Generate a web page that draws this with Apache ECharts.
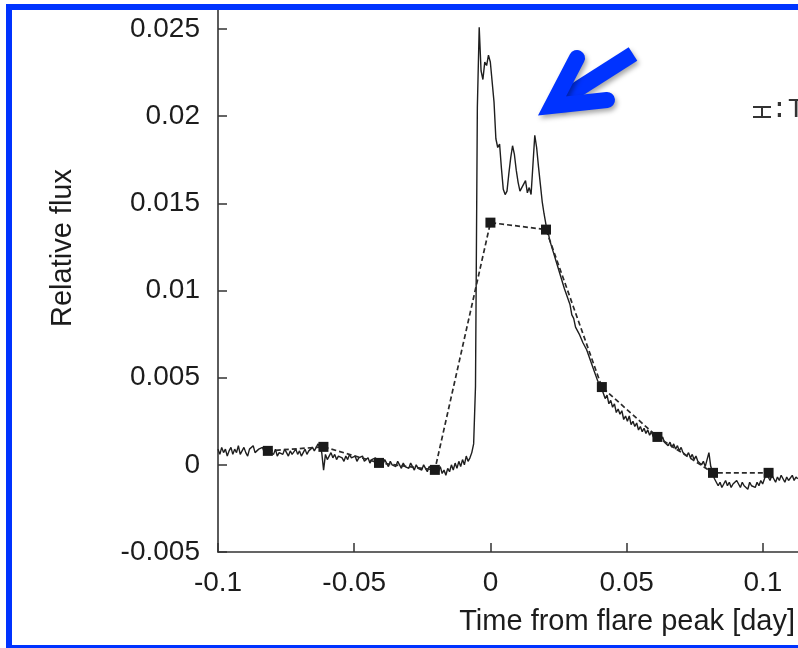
<!DOCTYPE html>
<html><head><meta charset="utf-8">
<script src="https://cdn.jsdelivr.net/npm/echarts@6/dist/echarts.min.js"></script>
<style>html,body{margin:0;padding:0;background:#fff}#c{width:798px;height:648px}</style>
</head><body><div id="c"></div>
<script>
// ---- axis ticks ----
const xTicks = [-0.1, -0.05, 0, 0.05, 0.1];
const yTicks = [-0.005, 0, 0.005, 0.01, 0.015, 0.02, 0.025];
const xTitle = 'Time from flare peak [day]';
const yTitle = 'Relative flux';

// ---- short-cadence light curve (1-min cadence), flux in units of 1e-4 ----
const scStart = -0.1;
const scStep = 0.00068;
const scFlux = [
  // pre-flare
  9,6,10,7,9,5,8,10,6,9,7,11,6,8,10,7,5,9,8,11,7,6,9,8,10,7,8,9,7,
  8,6,9,5,7,8,6,9,7,5,8,6,7,9,6,8,5,7,9,6,8,7,10,8,9,12,10,7,-3,
  6,3,5,7,4,6,3,5,6,4,2,5,3,6,4,3,5,2,4,3,5,2,3,4,1,3,2,4,1,3,
  2,0,3,1,-1,2,0,1,-1,2,0,-2,1,-1,0,-2,1,-1,-3,0,-2,-1,-3,0,-2,-4,-1,-2,-3,-2,
  -2,-4,-1,-5,-3,-6,-2,-4,0,-3,1,-2,2,-1,3,0,5,2,4,7,12,
  // rise
  45,205,251,
  // flare peaks
  226,221,231,229,235,231,232,208,187,182,184,170,158,155,157,167,176,183,178,169,
  162,157,159,161,163,156,159,155,172,189,182,171,161,151,144,138,
  // decay
  135,129,128,122,121,115,114,108,107,101,101,95,92,86,84,79,79,75,75,70,71,66,65,60,60,54,54,48,49,44,
  43,38,40,35,37,33,35,30,32,29,31,26,28,25,28,23,25,22,24,20,22,19,21,18,20,17,19,16,18,15,
  16,14,16,13,14,11,13,10,12,9,11,8,10,7,8,5,7,4,6,3,5,2,3,0,2,-1,0,
  7,-1,-4,-8,-10,
  -12,-10,-13,-11,-9,-12,-10,-13,-11,-12,-9,-11,-13,-10,-12,-11,-14,-10,-12,-11,-13,-10,-12,-9,-11,
  -8,-5,-7,-9,-6,-8,-10,-7,-9,-6,-8,-10,-7,-9,-8,-6,-9,-7,-8
];

// ---- long-cadence (30-min) points ----
const lcTime = [-0.0817, -0.0613, -0.0409, -0.0204, 0, 0.0204, 0.0409, 0.0613, 0.0817, 0.1021];
const lcFlux = [0.0008, 0.00103, 0.00011, -0.00029, 0.01389, 0.01349, 0.00446, 0.0016, -0.00046, -0.00046];

const scData = scFlux.map((f, i) => [+(scStart + i * scStep).toFixed(6), f * 1e-4]);
const lcData = lcTime.map((t, i) => [t, lcFlux[i]]);

const FONT = '"Liberation Sans", Arial, Helvetica, sans-serif';
const AX = '#333';
const BLUE = '#0033ff';
const shadow = {shadowBlur: 5, shadowColor: 'rgba(0,0,0,0.35)', shadowOffsetX: 2, shadowOffsetY: 3};

const chart = echarts.init(document.getElementById('c'), null, {renderer: 'canvas'});
chart.setOption({
  animation: false,
  backgroundColor: '#fff',
  grid: {left: 218, right: 0, top: 8, bottom: 96},
  xAxis: {
    type: 'value', min: xTicks[0], max: 0.1129, interval: xTicks[1] - xTicks[0],
    axisLine: {onZero: false, lineStyle: {color: AX, width: 1.6}},
    axisTick: {inside: true, length: 9, lineStyle: {color: AX, width: 1.5}},
    axisLabel: {margin: 17, fontSize: 28, color: '#1c1c1c', fontFamily: FONT, showMaxLabel: false},
    splitLine: {show: false}
  },
  yAxis: {
    type: 'value', min: yTicks[0], max: 0.0262, interval: yTicks[1] - yTicks[0],
    axisLine: {onZero: false, lineStyle: {color: AX, width: 1.6}},
    axisTick: {inside: true, length: 9, lineStyle: {color: AX, width: 1.5}},
    axisLabel: {margin: 18, fontSize: 28, color: '#1c1c1c', fontFamily: FONT, showMaxLabel: false},
    splitLine: {show: false}
  },
  series: [
    {
      type: 'line', data: scData, showSymbol: false, symbol: 'none',
      lineStyle: {color: '#1e1e1e', width: 1.4}, clip: true, z: 2
    },
    {
      type: 'line', data: lcData, symbol: 'rect', symbolSize: 10,
      itemStyle: {color: '#1a1a1a'},
      lineStyle: {color: '#2a2a2a', width: 1.7, type: [5, 3]}, clip: true, z: 3
    }
  ],
  graphic: [
    {type: 'text', x: 795, y: 622, silent: true,
     style: {text: xTitle, font: '29px ' + FONT, fill: '#1c1c1c', align: 'right', verticalAlign: 'middle'}},
    {type: 'text', x: 63, y: 248, rotation: Math.PI / 2, silent: true,
     style: {text: yTitle, font: '29px ' + FONT, fill: '#1c1c1c', align: 'center', verticalAlign: 'middle'}},
    // arrow annotation
    {type: 'line', z: 50, silent: true, shape: {x1: 556, y1: 103, x2: 633, y2: 54},
     style: Object.assign({stroke: BLUE, lineWidth: 16, lineCap: 'butt'}, shadow)},
    {type: 'polyline', z: 51, silent: true, shape: {points: [[577, 58], [552, 106], [607, 100]]},
     style: Object.assign({stroke: BLUE, fill: null, lineWidth: 16, lineJoin: 'miter', lineCap: 'round'}, shadow)},
    // clipped legend fragment
    {type: 'polyline', z: 40, silent: true, shape: {points: [[753, 107], [771, 107]]}, style: {stroke: '#333', lineWidth: 2}},
    {type: 'polyline', z: 40, silent: true, shape: {points: [[753, 117], [771, 117]]}, style: {stroke: '#333', lineWidth: 2}},
    {type: 'polyline', z: 40, silent: true, shape: {points: [[762, 107], [762, 117]]}, style: {stroke: '#333', lineWidth: 2}},
    {type: 'text', x: 771, y: 110, z: 40, silent: true,
     style: {text: ':T', font: '28px "Liberation Mono", monospace', fill: '#333', align: 'left', verticalAlign: 'middle'}},
    // blue frame
    {type: 'rect', z: 100, silent: true, shape: {x: 9, y: 7, width: 900, height: 641},
     style: {fill: null, stroke: BLUE, lineWidth: 6}}
  ]
});
</script></body></html>
